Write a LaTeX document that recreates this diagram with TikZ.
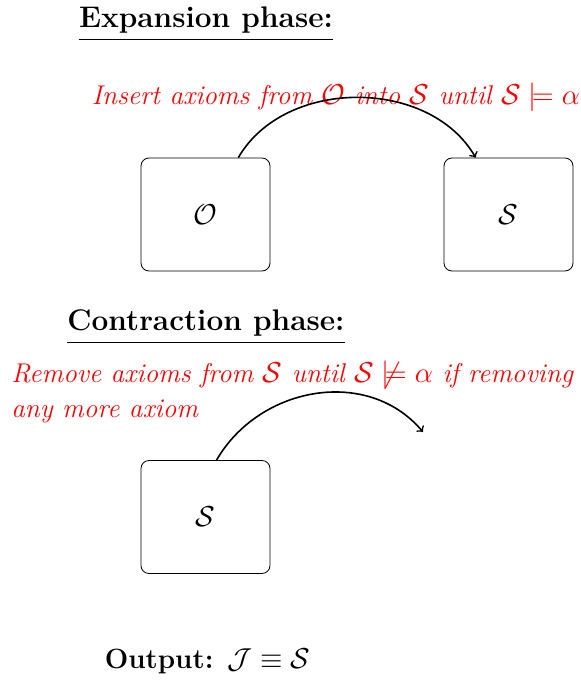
\documentclass[tikz,border=0pt]{standalone}
\usepackage{amsmath,amssymb}
\usetikzlibrary{calc}
\begin{document}
\begin{tikzpicture}[x=0.5pt,y=0.5pt,
  box/.style={draw, rounded corners=4pt, minimum width=64.5pt, minimum height=56.5pt, font=\Large},
  hd/.style={font=\fontsize{14.9}{18}\selectfont\bfseries, inner sep=0pt, anchor=base},
  note/.style={font=\fontsize{13.55}{17.5}\selectfont\itshape, text=red, inner sep=0pt, anchor=base west, align=left},
  arr/.style={->, thick}]
\useasboundingbox (0,0) rectangle (580,682);
% Expansion phase
\node[hd] (h1) at (206,654) {Expansion phase:};
\draw[line width=0.6pt] ($(h1.base west)+(0,-11.5)$) -- ($(h1.base east)+(0,-11.5)$);
\node[note] (t1) at (91.5,577) {Insert axioms from $\mathcal{O}$ into $\mathcal{S}$ until $\mathcal{S}\models\alpha$};
\node[box] (O) at (205.5,467.5) {$\mathcal{O}$};
\node[box] (S) at (508.5,467.5) {$\mathcal{S}$};
\draw[arr] (O.60) to[out=60,in=120] (S.120);
% Contraction phase
\node[hd] (h2) at (206,351) {Contraction phase:};
\draw[line width=0.6pt] ($(h2.base west)+(0,-11.5)$) -- ($(h2.base east)+(0,-11.5)$);
\node[note] (t2) at (11,264) {Remove axioms from $\mathcal{S}$ until $\mathcal{S}\not\models\alpha$ if removing\\any more axiom};
\node[box] (S2) at (205.5,165) {$\mathcal{S}$};
\coordinate (e2) at (423,250);
\draw[arr] (S2.79) to[out=60,in=130,looseness=1.05] (e2);
% Output
\node[hd, font=\fontsize{13.9}{17}\selectfont\bfseries] (out) at (207.5,13) {Output: $\mathcal{J}\equiv\mathcal{S}$};
\end{tikzpicture}
\end{document}
